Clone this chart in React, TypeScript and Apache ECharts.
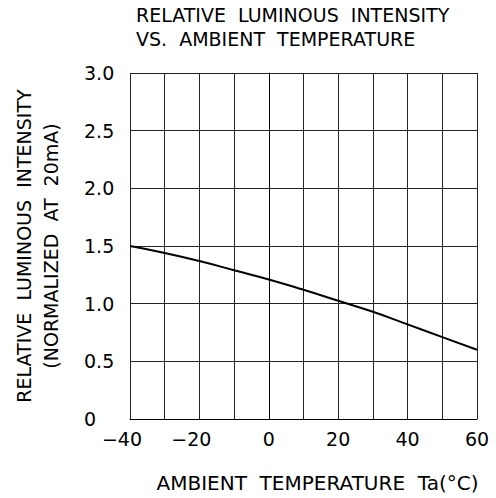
import React, { useEffect, useRef } from "react";
import * as echarts from "echarts";

const temps = [-40, -30, -20, -10, 0, 10, 20, 30, 40, 50, 60];
const intensity = [1.5, 1.44, 1.37, 1.29, 1.21, 1.12, 1.025, 0.93, 0.82, 0.71, 0.6];
const titleLines = ["RELATIVE  LUMINOUS  INTENSITY", "VS.  AMBIENT  TEMPERATURE"];
const yNameLines = ["RELATIVE  LUMINOUS  INTENSITY", "(NORMALIZED  AT  20mA)"];
const xName = "AMBIENT  TEMPERATURE  Ta(°C)";

const FONT = "DejaVu Sans";

export default function App() {
  const ref = useRef<HTMLDivElement>(null);
  useEffect(() => {
    if (!ref.current) return;
    const chart = echarts.init(ref.current, null, { renderer: "svg" });
    chart.setOption({
      animation: false,
      backgroundColor: "#fff",
      title: {
        text: titleLines.join("\n"),
        left: 136,
        top: 3,
        padding: 0,
        textStyle: {
          fontFamily: FONT,
          fontSize: 19,
          fontWeight: "normal",
          color: "#000",
          lineHeight: 24,
        },
      },
      grid: { left: 130, right: 19, top: 73, bottom: 77 },
      xAxis: {
        type: "value",
        min: -40,
        max: 60,
        interval: 10,
        name: xName,
        nameLocation: "middle",
        nameGap: 54,
        nameTextStyle: {
          fontFamily: FONT,
          fontSize: 20,
          color: "#000",
          padding: [0, 0, 0, 28],
        },
        axisLine: { show: true, lineStyle: { color: "#000", width: 1 } },
        axisTick: { show: false },
        splitLine: { show: true, lineStyle: { color: "#222", width: 1 } },
        axisLabel: {
          margin: 10,
          color: "#000",
          fontFamily: FONT,
          fontSize: 19,
          formatter: (v: number) => {
            if (v % 20 !== 0) return "";
            if (v < 0) return "{n|−" + Math.abs(v) + "}";
            return String(v);
          },
          rich: {
            n: { fontFamily: FONT, fontSize: 19, color: "#000", padding: [0, 16, 0, 0] },
          },
        },
      },
      yAxis: {
        type: "value",
        min: 0,
        max: 3,
        interval: 0.5,
        name: yNameLines.join("\n"),
        nameLocation: "middle",
        nameGap: 66,
        nameTextStyle: {
          fontFamily: FONT,
          fontSize: 19,
          color: "#000",
          lineHeight: 27,
        },
        axisLine: { show: true, lineStyle: { color: "#000", width: 1 } },
        axisTick: { show: false },
        splitLine: { show: true, lineStyle: { color: "#222", width: 1 } },
        axisLabel: {
          margin: 46,
          align: "left",
          color: "#000",
          fontFamily: FONT,
          fontSize: 19,
          formatter: (v: number) => (v === 0 ? "0" : v.toFixed(1)),
        },
      },
      series: [
        {
          type: "line",
          data: temps.map((t, i) => [t, intensity[i]]),
          smooth: true,
          showSymbol: false,
          lineStyle: { color: "#000", width: 2 },
        },
      ],
    });
    return () => chart.dispose();
  }, []);
  return (
    <div
      ref={ref}
      style={{ position: "fixed", left: 0, top: 0, width: 496, height: 498 }}
    />
  );
}
